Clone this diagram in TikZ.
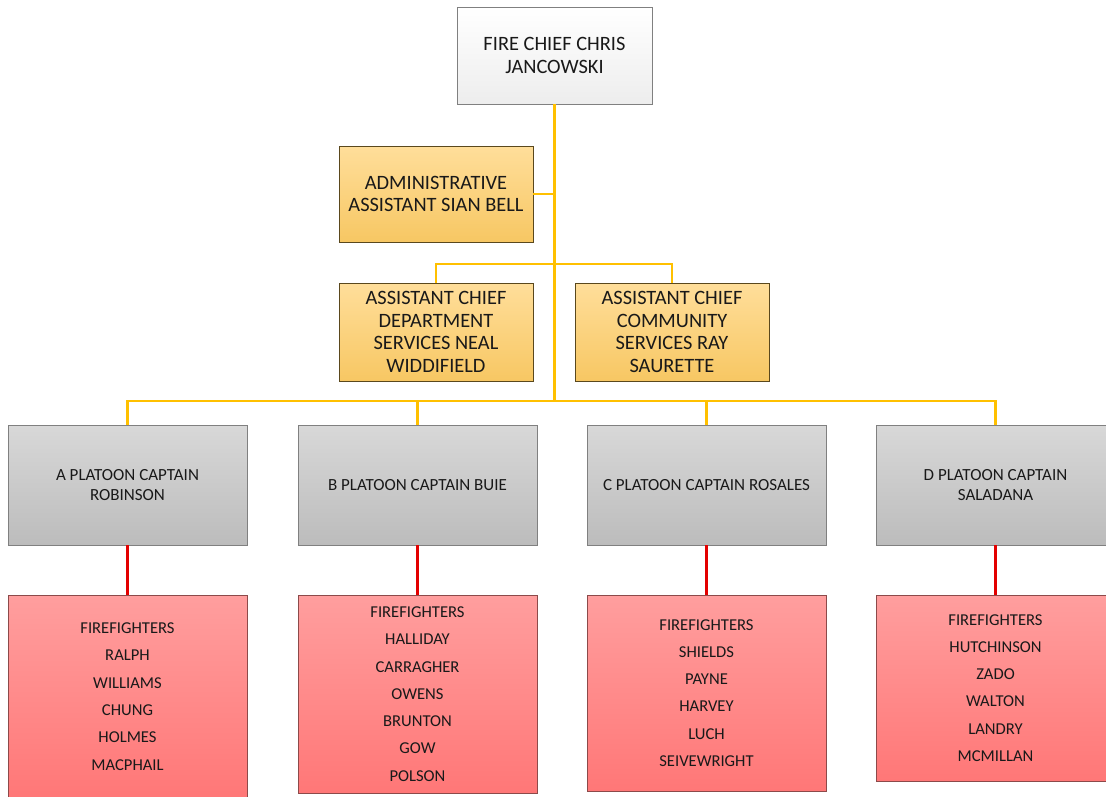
\documentclass[tikz,border=0pt]{standalone}
\usepackage{fontspec}
\setmainfont{Carlito}
\begin{document}
\begin{tikzpicture}[x=1pt,y=-1pt,
  box/.style={draw, line width=0.9pt, inner sep=0pt, outer sep=0pt, align=center, text=black!90},
  chiefbox/.style={box, draw=black!50, top color=white, bottom color=black!7, font=\fontsize{20.4}{23}\selectfont},
  goldbox/.style={box, draw=gold!45!black, top color=goldtop, bottom color=goldbot, font=\fontsize{20.4}{22.7}\selectfont, minimum width=194pt},
  platbox/.style={box, draw=black!50, top color=plattop, bottom color=platbot, font=\fontsize{17}{20}\selectfont, minimum width=239pt, minimum height=120pt},
  firebox/.style={box, draw=redbd, top color=redtop, bottom color=redbot, font=\fontsize{16.6}{27.3}\selectfont, minimum width=239pt},
  yel/.style={draw=linegold, line width=2.8pt},
  redl/.style={draw=linered, line width=2.8pt}
]
\definecolor{gold}{HTML}{C9A040}
\definecolor{goldtop}{HTML}{FFDE9A}
\definecolor{goldbot}{HTML}{F7C763}
\definecolor{plattop}{HTML}{D8D8D8}
\definecolor{platbot}{HTML}{BCBCBC}
\definecolor{redtop}{HTML}{FF9E9E}
\definecolor{redbot}{HTML}{FF7777}
\definecolor{redbd}{HTML}{8C4A4A}
\definecolor{linegold}{HTML}{FFC000}
\definecolor{linered}{HTML}{E30000}
\clip (0,0) rectangle (1106,796);
\useasboundingbox (0,0) rectangle (1106,796);
\fill[white] (0,0) rectangle (1106,796);

\coordinate (bus1) at (554.5,264);
\coordinate (bus2) at (554.5,401);

\node[chiefbox, minimum width=195pt, minimum height=97pt] (chief) at (554.5,55.5) {FIRE CHIEF CHRIS\\JANCOWSKI};
\node[goldbox, minimum height=96pt] (admin) at (436,194) {ADMINISTRATIVE\\ASSISTANT SIAN BELL};
\node[goldbox, minimum height=98pt] (acd) at (436,332) {ASSISTANT CHIEF\\DEPARTMENT\\SERVICES NEAL\\WIDDIFIELD};
\node[goldbox, minimum height=98pt] (acc) at (672,332) {ASSISTANT CHIEF\\COMMUNITY\\SERVICES RAY\\SAURETTE};

\node[platbox] (pa) at (127.5,485) {A PLATOON CAPTAIN\\ROBINSON};
\node[platbox] (pb) at (417.5,485) {B PLATOON CAPTAIN BUIE};
\node[platbox] (pc) at (706.5,485) {C PLATOON CAPTAIN ROSALES};
\node[platbox] (pd) at (995.5,485) {D PLATOON CAPTAIN\\SALADANA};

\node[firebox, minimum height=203pt] (fa) at (127.5,696.5) {FIREFIGHTERS\\RALPH\\WILLIAMS\\CHUNG\\HOLMES\\MACPHAIL};
\node[firebox, minimum height=198pt] (fb) at (417.5,694) {FIREFIGHTERS\\HALLIDAY\\CARRAGHER\\OWENS\\BRUNTON\\GOW\\POLSON};
\node[firebox, minimum height=196pt] (fc) at (706.5,693) {FIREFIGHTERS\\SHIELDS\\PAYNE\\HARVEY\\LUCH\\SEIVEWRIGHT};
\node[firebox, minimum height=186pt] (fd) at (995.5,688) {FIREFIGHTERS\\HUTCHINSON\\ZADO\\WALTON\\LANDRY\\MCMILLAN};

% yellow connectors
\draw[yel] (chief.south) -- (bus2);
\draw[yel] (admin.east) -- (admin.east -| chief.south);
\draw[yel] (acd.north) -- (acd.north |- bus1) -- (acc.north |- bus1) -- (acc.north);
\draw[yel] (pa.north) -- (pa.north |- bus2) -- (pd.north |- bus2) -- (pd.north);
\draw[yel] (pb.north) -- (pb.north |- bus2);
\draw[yel] (pc.north) -- (pc.north |- bus2);

% red connectors
\draw[redl] (pa.south) -- (fa.north);
\draw[redl] (pb.south) -- (fb.north);
\draw[redl] (pc.south) -- (fc.north);
\draw[redl] (pd.south) -- (fd.north);
\end{tikzpicture}
\end{document}
